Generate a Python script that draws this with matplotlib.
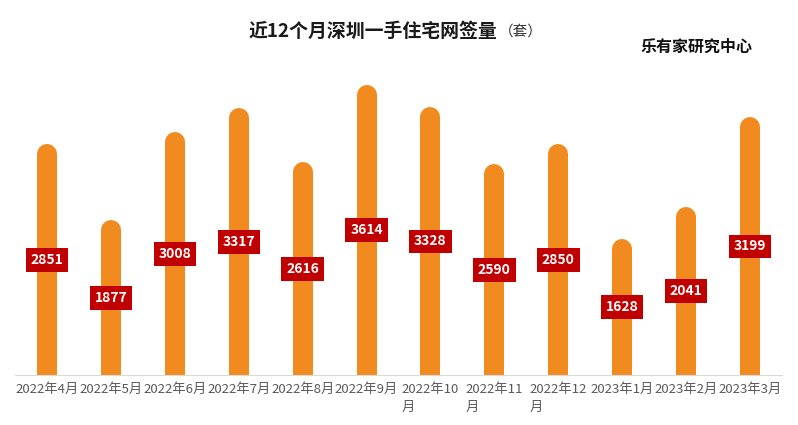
import matplotlib
matplotlib.use("Agg")
import matplotlib.pyplot as plt

plt.rcParams["font.family"] = ["Noto Sans CJK SC", "DejaVu Sans"]

months = ["2022年4月", "2022年5月", "2022年6月", "2022年7月", "2022年8月", "2022年9月",
          "2022年10\n月", "2022年11\n月", "2022年12\n月", "2023年1月", "2023年2月", "2023年3月"]
sales = [2851, 1877, 3008, 3317, 2616, 3614, 3328, 2590, 2850, 1628, 2041, 3199]

ORANGE = "#F28B1F"
RED = "#C00000"

fig = plt.figure(figsize=(7.98, 4.25), dpi=100)
ax = fig.add_axes([15 / 798, 50 / 425, 767 / 798, 315 / 425])

x = list(range(len(sales)))
# rounded-top bars: thick lines with round caps, the bottom cap is clipped by ylim
for xi, v in zip(x, sales):
    ax.plot([xi, xi], [-300, v], color=ORANGE, linewidth=14.4, solid_capstyle="round", zorder=2)
    ax.text(xi, v / 2 + 60, f"{v}", ha="center", va="center", color="white",
            fontsize=10, fontweight="bold", zorder=3,
            bbox=dict(boxstyle="square,pad=0.35", fc=RED, ec="none"))

ax.set_xlim(-0.5, 11.5)
ax.set_ylim(0, 4066)
ax.set_xticks(x)
ax.set_xticklabels(months, fontsize=9.5, color="#595959", multialignment="left", linespacing=1.45)
ax.tick_params(axis="x", length=0, pad=6)
ax.set_yticks([])
for side in ["top", "right", "left"]:
    ax.spines[side].set_visible(False)
ax.spines["bottom"].set_color("#D9D9D9")

fig.text(0.623, 0.925, "近12个月深圳一手住宅网签量", ha="right", va="center", fontsize=13.6,
         fontweight="bold", color="#1a1a1a")
fig.text(0.625, 0.925, "（套）", ha="left", va="center", fontsize=10.5, color="#333333")
fig.text(0.943, 0.889, "乐有家研究中心", ha="right", va="center", fontsize=11.5,
         fontweight="bold", color="#111111")

fig.savefig("out.png", dpi=100)
